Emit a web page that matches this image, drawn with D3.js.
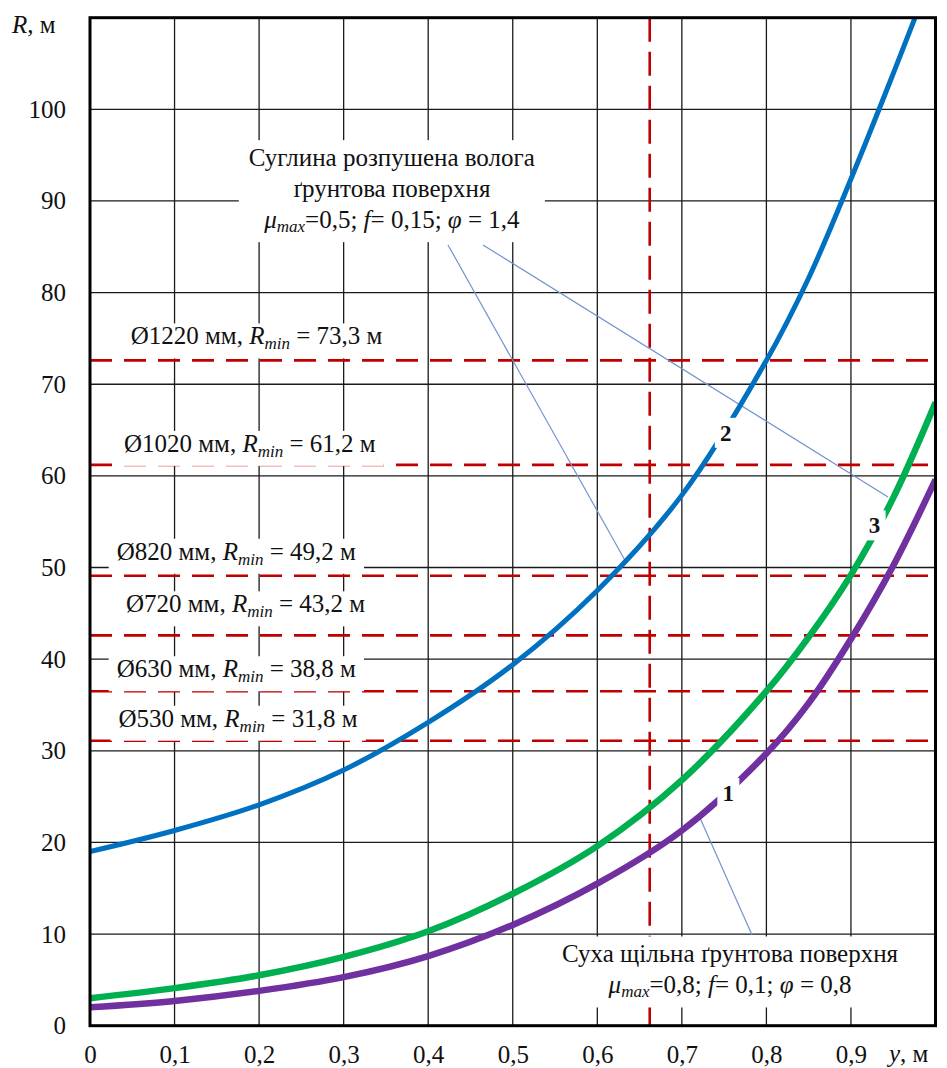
<!DOCTYPE html>
<html><head><meta charset="utf-8">
<script src="https://cdn.jsdelivr.net/npm/d3@7/dist/d3.min.js"></script>
<style>
body{margin:0;background:#fff}
svg text{font-family:"Liberation Serif","Times New Roman",serif;fill:#111}
</style>
</head><body>
<svg id="chart" width="947" height="1068"></svg>
<script>
// ---------- data ----------
const xTicks = [0,0.1,0.2,0.3,0.4,0.5,0.6,0.7,0.8,0.9];
const xTickLabels = ["0","0,1","0,2","0,3","0,4","0,5","0,6","0,7","0,8","0,9"];
const yTicks = [0,10,20,30,40,50,60,70,80,90,100];
const yTickLabels = ["0","10","20","30","40","50","60","70","80","90","100"];

// curve 1 (purple) – dry dense soil surface
const c1Y = [0,0.1,0.2,0.3,0.4,0.5,0.6,0.7,0.8,0.85,0.9,0.95,1.0];
const c1R = [2.0,2.7,3.8,5.3,7.6,11.0,15.5,21.3,29.7,35.2,42.2,50.2,59.6];
// curve 2 (blue) – loosened wet loam
const c2Y = [0,0.1,0.2,0.3,0.4,0.5,0.6,0.7,0.8,0.85,0.9,0.95,0.98];
const c2R = [19.0,21.3,24.1,27.9,33.1,39.4,47.5,57.9,72.6,81.6,92.4,103.9,111];
// curve 3 (green)
const c3Y = [0,0.1,0.2,0.3,0.4,0.5,0.6,0.7,0.8,0.85,0.9,0.95,1.0];
const c3R = [3.0,4.1,5.5,7.5,10.3,14.4,19.6,26.8,36.5,42.4,49.2,57.6,68.0];

const curveNames = ["1","2","3"];
const curveLabelY = [0.755,0.752,0.928];
const curveLabelR = [25.4,64.7,54.6];

// pipe diameters and minimal radii (red dashed lines)
const pipeNames = ["Ø1220 мм","Ø1020 мм","Ø820 мм","Ø720 мм","Ø630 мм","Ø530 мм"];
const rminText  = ["73,3 м","61,2 м","49,2 м","43,2 м","38,8 м","31,8 м"];
const rminLine  = [72.6,61.2,49.1,42.6,36.5,31.1];
const yCritical = 0.662;

const annotTop = ["Суглина розпушена волога","ґрунтова поверхня"];
const annotTopParams = ["0,5","0,15","1,4"];
const annotBottom = ["Суха щільна ґрунтова поверхня"];
const annotBottomParams = ["0,8","0,1","0,8"];

// ---------- layout ----------
const svg = d3.select("#chart");
const W = 947, H = 1068;
const x = d3.scaleLinear().domain([0,1]).range([90,935.5]);
const y = d3.scaleLinear().domain([0,110]).range([1025.7,17.7]);
const colors = {c1:"#7030A0", c2:"#0070C0", c3:"#00B050", red:"#C00000", lead:"#7393D0"};
const FS = 25;

svg.append("rect").attr("width",W).attr("height",H).attr("fill","#fff");

svg.append("defs").append("clipPath").attr("id","plotClip")
  .append("rect").attr("x",x(0)).attr("y",y(110)).attr("width",x(1)-x(0)).attr("height",y(0)-y(110));

// grid
const grid = svg.append("g").attr("stroke","#1a1a1a").attr("stroke-width",1.3);
grid.selectAll("line.v").data(xTicks.slice(1)).enter().append("line")
  .attr("x1",d=>x(d)).attr("x2",d=>x(d)).attr("y1",y(110)).attr("y2",y(0));
grid.selectAll("line.h").data(yTicks.slice(1)).enter().append("line")
  .attr("x1",x(0)).attr("x2",x(1)).attr("y1",d=>y(d)).attr("y2",d=>y(d));

// red dashed lines
const red = svg.append("g").attr("stroke",colors.red).attr("stroke-width",2.6).attr("fill","none");
red.selectAll("line.h").data(rminLine).enter().append("line")
  .attr("x1",x(0)).attr("x2",x(1)).attr("y1",d=>y(d)).attr("y2",d=>y(d))
  .attr("stroke-dasharray","22,12");
red.append("line").attr("x1",x(yCritical)).attr("x2",x(yCritical))
  .attr("y1",y(110)).attr("y2",y(0)).attr("stroke-dasharray","24,10");

// pipe labels with white background
const labelCX = [0.197,0.189,0.173,0.184,0.173,0.175];
const labelDy = [16,13,16,23,14,14];
const pipeG = svg.append("g");
pipeNames.forEach((nm,i)=>{
  const g = pipeG.append("g");
  const t = g.append("text").attr("x",x(labelCX[i])).attr("y",y(rminLine[i])-labelDy[i])
    .attr("text-anchor","middle").attr("font-size",FS);
  t.append("tspan").text(nm+", ");
  t.append("tspan").attr("font-style","italic").text("R");
  t.append("tspan").attr("font-style","italic").attr("font-size",17).attr("dy",5).text("min");
  t.append("tspan").attr("dy",-5).text(" = "+rminText[i]);
  const bb = t.node().getBBox();
  g.insert("rect","text").attr("x",bb.x-8).attr("y",bb.y+1).attr("width",bb.width+16).attr("height",bb.height+4).attr("fill","#fff");
});

// annotation boxes
function annot(cx, baseY, lines, params, fs){
  const g = svg.append("g");
  const lh = 31;
  lines.forEach((l,i)=>{
    g.append("text").attr("x",cx).attr("y",baseY+i*lh).attr("text-anchor","middle").attr("font-size",fs).text(l);
  });
  const t = g.append("text").attr("x",cx).attr("y",baseY+lines.length*lh).attr("text-anchor","middle").attr("font-size",fs);
  t.append("tspan").attr("font-style","italic").text("μ");
  t.append("tspan").attr("font-style","italic").attr("font-size",fs*0.68).attr("dy",4).text("max");
  t.append("tspan").attr("dy",-4).text("="+params[0]+"; ");
  t.append("tspan").attr("font-style","italic").text("f");
  t.append("tspan").text("= "+params[1]+"; ");
  t.append("tspan").attr("font-style","italic").text("φ");
  t.append("tspan").text(" = "+params[2]);
  const bb = g.node().getBBox();
  g.insert("rect",":first-child").attr("x",bb.x-10).attr("y",bb.y-4).attr("width",bb.width+20).attr("height",bb.height+10).attr("fill","#fff");
  return g;
}
annot(x(0.357), y(93.8), annotTop, annotTopParams, FS);
annot(x(0.757), y(6.9), annotBottom, annotBottomParams, FS);

// leader lines (data coordinates)
const leaders = [
  [[0.4234,85.2],[0.6327,50.8]],
  [[0.4648,85.2],[0.9438,57.7]],
  [[0.7215,22.66],[0.783,9.9]]
];
svg.append("g").attr("stroke",colors.lead).attr("stroke-width",1.2)
  .selectAll("line").data(leaders).enter().append("line")
  .attr("x1",d=>x(d[0][0])).attr("y1",d=>y(d[0][1]))
  .attr("x2",d=>x(d[1][0])).attr("y2",d=>y(d[1][1]));

// curves
const line = d3.line().x(d=>x(d[0])).y(d=>y(d[1])).curve(d3.curveCatmullRom.alpha(0.5));
const curves = [
  {xs:c1Y, rs:c1R, color:colors.c1, w:6.5},
  {xs:c2Y, rs:c2R, color:colors.c2, w:5},
  {xs:c3Y, rs:c3R, color:colors.c3, w:6.5}
];
const cg = svg.append("g").attr("clip-path","url(#plotClip)");
[curves[1],curves[2],curves[0]].forEach(c=>{
  cg.append("path").datum(c.xs.map((v,i)=>[v,c.rs[i]]))
    .attr("d",line).attr("fill","none").attr("stroke",c.color).attr("stroke-width",c.w);
});

// curve number labels
curveNames.forEach((n,i)=>{
  const cx = x(curveLabelY[i]), cy = y(curveLabelR[i]);
  svg.append("rect").attr("x",cx-11).attr("y",cy-15).attr("width",22).attr("height",30).attr("fill","#fff");
  svg.append("text").attr("x",cx).attr("y",cy).attr("dy","0.35em").attr("text-anchor","middle")
    .attr("font-size",23).attr("font-weight","bold").text(n);
});

// frame
svg.append("rect").attr("x",x(0)).attr("y",y(110)).attr("width",x(1)-x(0)).attr("height",y(0)-y(110))
  .attr("fill","none").attr("stroke","#000").attr("stroke-width",3);

// axes labels
const yAx = svg.append("g").attr("transform",`translate(${x(0)},0)`)
  .call(d3.axisLeft(y).tickValues(yTicks).tickFormat((d,i)=>yTickLabels[i]).tickSize(0).tickPadding(24));
yAx.select(".domain").remove();
yAx.selectAll("text").attr("font-size",FS).attr("font-family","Liberation Serif").attr("fill","#111");

const xAx = svg.append("g").attr("transform",`translate(0,${y(0)})`)
  .call(d3.axisBottom(x).tickValues(xTicks).tickFormat((d,i)=>xTickLabels[i]).tickSize(0).tickPadding(20));
xAx.select(".domain").remove();
xAx.selectAll("text").attr("font-size",FS).attr("font-family","Liberation Serif").attr("fill","#111");

const rl = svg.append("text").attr("x",12).attr("y",33).attr("font-size",FS);
rl.append("tspan").attr("font-style","italic").text("R");
rl.append("tspan").text(", м");
const yl = svg.append("text").attr("x",889).attr("y",1062).attr("font-size",FS);
yl.append("tspan").attr("font-style","italic").text("y");
yl.append("tspan").text(", м");
</script>
</body></html>
